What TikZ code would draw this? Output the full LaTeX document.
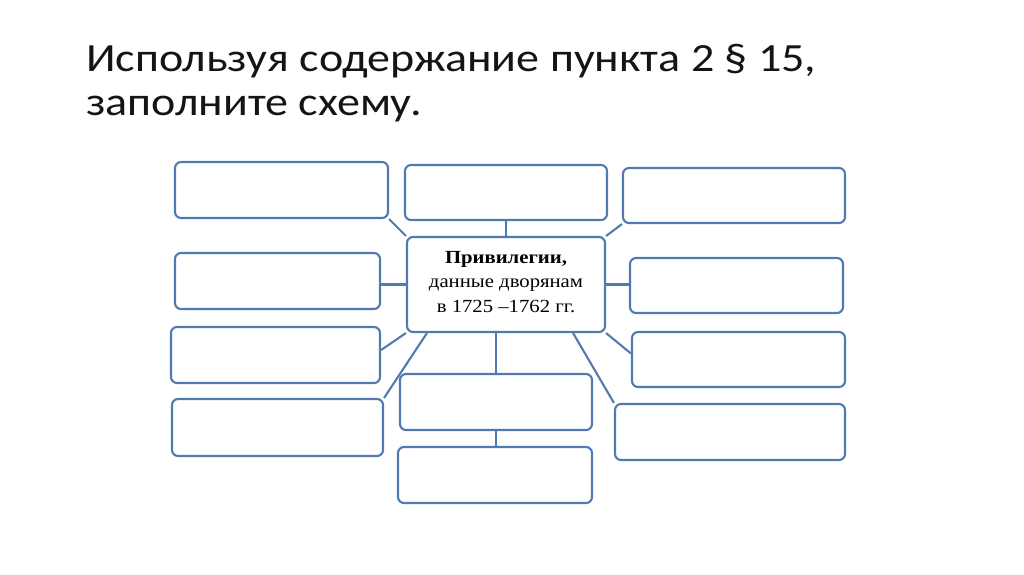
\documentclass[tikz,border=0pt]{standalone}
\usepackage{fontspec}
\setmainfont{Carlito}
\newfontfamily\titlefont[FakeStretch=1.15]{Carlito}
\newfontfamily\boxfont[FakeStretch=1.12]{Liberation Serif}
\definecolor{schemeblue}{RGB}{82,122,178}
\definecolor{titlegray}{RGB}{20,20,20}
\begin{document}
\begin{tikzpicture}[x=1pt,y=-1pt,
  blankbox/.style={draw=schemeblue, line width=2.1pt, rounded corners=6pt, fill=white, inner sep=0pt},
  link/.style={draw=schemeblue, line width=2.1pt},
  titletext/.style={anchor=base west, inner sep=0pt, text=titlegray, font=\titlefont\fontsize{40}{44}\selectfont}]
\useasboundingbox (0,0) rectangle (1024,574);
% title
\node[titletext] (t1) at (86,71) {Используя содержание пункта 2 § 15,};
\node[titletext] (t2) at (86,115) {заполните схему.};
% boxes
\node[blankbox, minimum width=213pt, minimum height=56pt] (L1) at (281.5,190) {};
\node[blankbox, minimum width=205pt, minimum height=56pt] (L2) at (277.5,281) {};
\node[blankbox, minimum width=209pt, minimum height=56pt] (L3) at (275.5,355) {};
\node[blankbox, minimum width=211pt, minimum height=57pt] (L4) at (277.5,427.5) {};
\node[blankbox, minimum width=202pt, minimum height=55pt] (T) at (506,192.5) {};
\node[blankbox, minimum width=222pt, minimum height=55pt] (R1) at (734,195.5) {};
\node[blankbox, minimum width=213pt, minimum height=55pt] (R2) at (736.5,285.5) {};
\node[blankbox, minimum width=213pt, minimum height=55pt] (R3) at (738.5,359.5) {};
\node[blankbox, minimum width=230pt, minimum height=56pt] (R4) at (730,432) {};
\node[blankbox, minimum width=192pt, minimum height=56pt] (M1) at (496,402) {};
\node[blankbox, minimum width=194pt, minimum height=56pt] (M2) at (495,475) {};
\node[blankbox, minimum width=198pt, minimum height=95pt] (C) at (506,284.5) {};
\node[align=center, inner sep=0pt, font=\boxfont\fontsize{18.5}{24.5}\selectfont] (Ctext) at ([yshift=2.5pt]C.center)
  {\textbf{Привилегии,}\\данные дворянам\\в 1725 –1762 гг.};
% connectors
\draw[link] (T.south) -- (C.north);
\draw[link] (L1.south east) -- (C.north west);
\draw[link] (C.west) -- (C.west -| L2.east);
\draw[link] (C.north east) -- (R1.south west);
\draw[link] (C.east) -- (C.east -| R2.west);
\draw[link] (C.south west) -- ([yshift=5pt]L3.east);
\draw[link] ([xshift=21pt]C.south west) -- (L4.north east);
\draw[link] (M1.north |- C.south) -- (M1.north);
\draw[link] (M1.south) -- (M1.south |- M2.north);
\draw[link] ([xshift=-33pt]C.south east) -- (R4.north west);
\draw[link] (C.south east) -- ([yshift=6pt]R3.west);
\end{tikzpicture}
\end{document}
